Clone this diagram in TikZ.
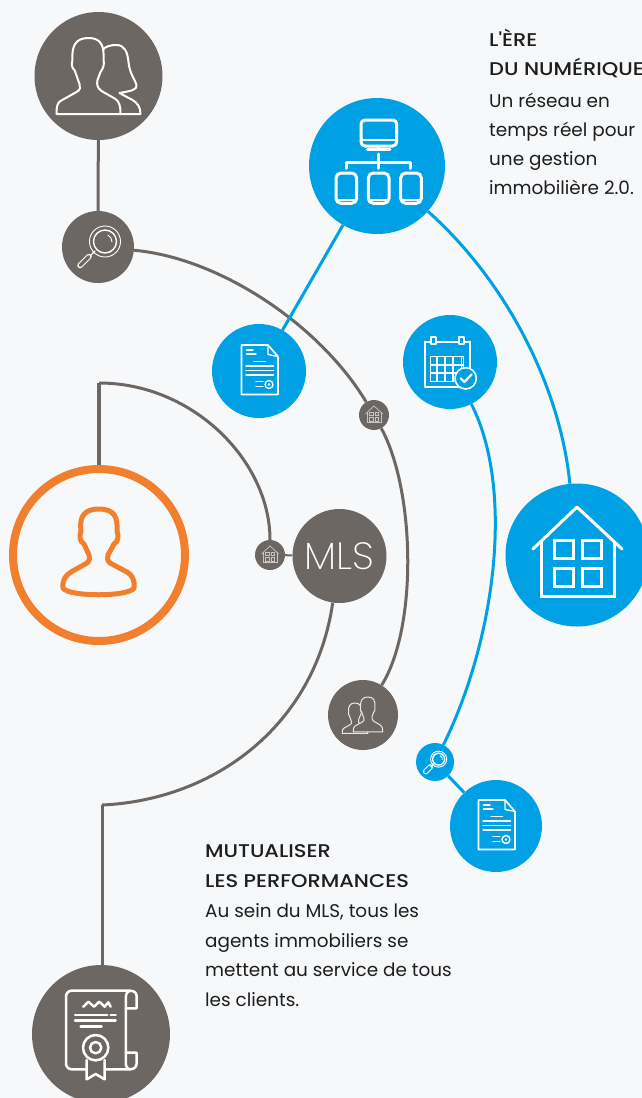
\documentclass[tikz,border=0pt]{standalone}
\usepackage{fontspec}
\setmainfont{Poppins}
\newfontfamily\headfont[FakeStretch=1.14]{Poppins Medium}
\newfontfamily\mlsfont[FakeStretch=1.03]{Poppins ExtraLight}
\usetikzlibrary{backgrounds}
\definecolor{bgc}{HTML}{F7F8FA}
\definecolor{grayc}{HTML}{6D6763}
\definecolor{bluec}{HTML}{00A1E4}
\definecolor{orangec}{HTML}{F27F2D}
\definecolor{inkc}{HTML}{1E1E1E}
\tikzset{
  x=1pt,y=-1pt,
  disc/.style={circle,inner sep=0pt,minimum size=#1,draw=none},
  gdisc/.style={disc=#1,fill=grayc},
  bdisc/.style={disc=#1,fill=bluec},
  glink/.style={draw=grayc,line width=3pt},
  blink/.style={draw=bluec,line width=3pt},
  ico/.style={draw=white,line width=#1,line join=round,line cap=round},
  body/.style={align=left,anchor=north west,inner sep=0pt,text=inkc,font=\fontsize{18.4}{29.8}\selectfont},
  bodytight/.style={body,font=\fontsize{18.4}{29}\selectfont},
}
\newcommand{\manpath}{(-32,76) .. controls (-32,68) and (-31,65) .. (-28,63) -- (-12,54) .. controls (-8,52) and (-8,49) .. (-9,46)
 -- (-14,32) .. controls (-17,30) and (-17,26) .. (-16,22) .. controls (-17,8) and (-13,0) .. (0,0) .. controls (12,0) and (16,7) .. (15,22)
 .. controls (16,26) and (15,30) .. (12,34) -- (9,42) .. controls (8,47) and (9,50) .. (13,53) -- (27,61) .. controls (31,64) and (32,68) .. (32,76) -- cycle}
\newcommand{\womanpath}{(14,12) .. controls (17,8) and (23,7) .. (28,7) .. controls (36,7) and (39,14) .. (40,24) .. controls (41,36) and (47,42) .. (48,47) .. controls (49,52) and (42,53) .. (31,55) -- (44,62) .. controls (49,65) and (52,69) .. (52,76) -- (32,76)}
\newcommand{\iconhouse}[4]{%
 \begin{scope}[shift={(#1.center)},scale=#2]
  \draw[ico=#3,draw=#4] (-44,-6) -- (0,-48) -- (45,-6);
  \draw[ico=#3,draw=#4,line cap=butt,line join=miter] (-36,-14) -- (-36,41) -- (37,41) -- (37,-14);
  \foreach \xa/\ya in {-23/-15,5/-15,-23/13,5/13}
   \draw[ico=#3,draw=#4,line join=miter] (\xa,\ya) rectangle ++(19,18);
 \end{scope}}
\newcommand{\icondoc}[1]{%
 \begin{scope}[shift={(#1.center)}]
  \draw[ico=1.6pt] (-17.5,-26) -- (9,-26) -- (19,-14.5) -- (19,23.5) -- (-17.5,23.5) -- cycle;
  \draw[ico=1.3pt] (9,-26) -- (9,-16.5) -- (19,-14.5);
  \draw[ico=1.3pt] (-12.5,-21) -- (-6,-21) (-12.5,-17) -- (-3,-17) (-5,-9.5) -- (6.5,-9.5)
   (-13,-5) -- (14.5,-5) (-13,-.5) -- (14.5,-.5) (-13,4) -- (14.5,4) (-3,10.5) -- (4,10.5) (-3,15.5) -- (4,15.5);
  \draw[ico=1.4pt] (10,13.5) circle (4);
  \fill[white] (10,13.5) circle (1.4);
 \end{scope}}
\newcommand{\iconmag}[3]{%
 \begin{scope}[shift={(#1.center)},scale=#2]
  \draw[ico=.9pt] (7,-5.5) circle (15.5);
  \draw[ico=1.4pt] (7,-5.5) circle (11.5);
  \draw[ico=.9pt] (10,-12) arc (-60:0:8 and 8);
  \draw[white,line width=5.5pt,line cap=round] (-9,9.5) -- (-18,18.5);
  \draw[#3,line width=3.3pt,line cap=round] (-9,9.5) -- (-18,18.5);
  \draw[ico=1.3pt] (-3,4) -- (-8,9);
 \end{scope}}
\begin{document}
\begin{tikzpicture}
\useasboundingbox (0,0) rectangle (642,1098);
% ---- nodes
\node[gdisc=128pt] (couple) at (98.5,76) {};
\node[gdisc=72pt] (magg) at (98,247) {};
\node[bdisc=136pt] (net) at (377,166) {};
\node[bdisc=94pt] (docA) at (259,371) {};
\node[bdisc=94pt] (cal) at (450,362) {};
\node[gdisc=30pt] (hsA) at (374,415) {};
\node[disc=172pt,draw=orangec,line width=8pt,fill=bgc] (agent) at (99,555) {};
\node[gdisc=94pt,text=white,font=\mlsfont\fontsize{38}{38}\selectfont] (mls) at (339.5,556) {MLS};
\node[gdisc=30pt] (hsB) at (270,555) {};
\node[bdisc=143pt] (house) at (577,555) {};
\node[gdisc=70pt] (users) at (363,715) {};
\node[bdisc=38pt] (magb) at (435,762) {};
\node[bdisc=92pt] (docB) at (496,826) {};
\node[gdisc=138pt] (cert) at (101,1034) {};
\coordinate (arcA) at (99,383);
\coordinate (arcB) at (102,805);
% ---- connectors, under the discs
\begin{scope}[on background layer]
 \fill[bgc] (0,0) rectangle (642,1098);
 \draw[glink] (couple) -- (magg);
 \draw[glink] (magg) .. controls (220,258) and (320,325) .. (hsA);
 \draw[glink] (hsA) .. controls (415,490) and (418,627) .. (users);
 \draw[glink,line width=4pt] (agent.north) -- (arcA);
 \draw[glink] (arcA) .. controls (193,383) and (270,461) .. (hsB);
 \draw[glink,line width=2pt] (hsB) -- (mls);
 \draw[glink] (mls) .. controls (315,725) and (215,800) .. (arcB);
 \draw[glink] (arcB) -- (cert.north -| arcB);
 \draw[blink] (net) -- (docA);
 \draw[blink] (net) .. controls (505,280) and (560,385) .. (house);
 \draw[blink] (cal) .. controls (515,490) and (495,640) .. (magb);
 \draw[blink] (magb) -- (docB);
\end{scope}
% ---- icons
% couple
\begin{scope}[shift={(couple.center)},shift={(-10,-38)}]
 \draw[ico=2pt] \womanpath;
 \draw[ico=2pt,fill=grayc] \manpath;
\end{scope}
\iconmag{magg}{1}{grayc}
% network
\begin{scope}[shift={(net.center)},scale=.3333,shift={(-231,-318)}]
 \draw[ico=3pt] (183,180) [rounded corners=4pt] rectangle (290,258);
 \draw[ico=2pt] (185,240) -- (288,240);
 \draw[ico=3pt] (235,258) -- (235,268) (202,269) -- (270,269) (235,282) -- (235,325) (138,325) -- (138,308) -- (332,308) -- (332,325);
 \foreach \xa in {108,205,302}{
  \draw[ico=3pt,rounded corners=5pt] (\xa,339) rectangle ++(62,91);
  \draw[ico=2pt] (\xa,419) -- ++(62,0);}
\end{scope}
\icondoc{docA}
\icondoc{docB}
% calendar
\begin{scope}[shift={(cal.center)},scale=.3333,shift={(-750,-156)}]
 \draw[ico=2pt] (675,95) -- (692,95) (708,95) -- (777,95) (793,95) -- (810,95) (810,95) -- (810,232) -- (675,232) -- (675,95);
 \draw[ico=2pt] (692,82) rectangle (708,102) (777,82) rectangle (793,102);
 \draw[ico=1.6pt,step=24.5] (692,140) grid (790,214);
 \draw[ico=1.6pt] (692,140) rectangle (790,214);
 \draw[ico=1.6pt] (692,140) -- (790,140) (692,164.5) -- (790,164.5) (692,189) -- (790,189) (692,214) -- (790,214);
 \draw[ico=1.6pt,fill=bluec] (797,205) circle (32);
 \draw[ico=2.2pt] (782,205) -- (793,216) -- (815,193);
\end{scope}
\iconhouse{hsA}{.19}{.7pt}{white!62!grayc}
\iconhouse{hsB}{.19}{.7pt}{white!62!grayc}
\iconhouse{house}{1}{3pt}{white}
% agent
\begin{scope}[shift={(agent.center)}]
 \draw[draw=orangec,line width=5pt,line join=round] (-36,33) .. controls (-37,25) and (-33,20) .. (-28,17) -- (-12,8) .. controls (-9,5) and (-9,3) .. (-10,0) -- (-15,-11) .. controls (-19,-13) and (-20,-19) .. (-18,-24) .. controls (-20,-38) and (-15,-46) .. (0,-46) .. controls (15,-46) and (19,-38) .. (18,-24) .. controls (20,-19) and (19,-13) .. (15,-11) -- (9,0) .. controls (8,3) and (8,5) .. (11,8) -- (28,17) .. controls (33,20) and (36,25) .. (35,33) .. controls (30,42) and (-31,42) .. (-36,33) -- cycle;
\end{scope}
% small users
\begin{scope}[shift={(users.center)},shift={(-8,-12)},scale=.4]
 \draw[draw=white!85!grayc,line width=1pt,line join=round] \manpath;
\end{scope}
\begin{scope}[shift={(users.center)},shift={(5,-18)},scale=.46]
 \draw[draw=white!85!grayc,line width=1pt,line join=round,fill=grayc] \manpath;
\end{scope}
\iconmag{magb}{.52}{bluec}
% certificate
\begin{scope}[shift={(cert.center)},scale=.3333,shift={(-243,-252)}]
 \draw[ico=2.5pt] (197,358) -- (155,358) .. controls (145,358) and (138,350) .. (138,340) -- (138,140) .. controls (138,130) and (145,122) .. (155,122) -- (330,122) .. controls (345,122) and (350,130) .. (350,140) -- (350,175) -- (318,175) -- (318,140) .. controls (318,130) and (322,124) .. (330,122);
 \draw[ico=2.5pt] (318,175) -- (318,308) -- (350,308) -- (350,340) .. controls (350,350) and (342,358) .. (330,358) -- (256,358);
 \draw[ico=2.5pt] (318,308) -- (318,345) .. controls (318,352) and (323,358) .. (330,358);
 \draw[ico=2.5pt] (190,170) -- (205,155) -- (222,170) -- (238,155) -- (254,170) -- (265,157) -- (272,170);
 \draw[ico=2.5pt] (165,195) -- (262,195) (272,195) -- (287,195) (165,212) -- (287,212) (182,230) -- (245,230);
 \draw[ico=2.5pt] (227,293) circle (38);
 \draw[ico=2.5pt] (227,293) circle (17);
 \draw[ico=2.5pt] (200,330) -- (200,388) -- (227,372) -- (254,388) -- (254,330);
\end{scope}
% ---- texts
\node[bodytight] (ta) at (489,28.5) {{\headfont L'ÈRE}\\{\headfont DU NUMÉRIQUE}\\[3.5pt]Un réseau en\\temps réel pour\\une gestion\\immobilière 2.0.};
\node[body] (tb) at (205,844.5) {{\headfont MUTUALISER}\\{\headfont LES PERFORMANCES}\\Au sein du MLS, tous les\\agents immobiliers se\\mettent au service de tous\\les clients.};
\end{tikzpicture}
\end{document}
